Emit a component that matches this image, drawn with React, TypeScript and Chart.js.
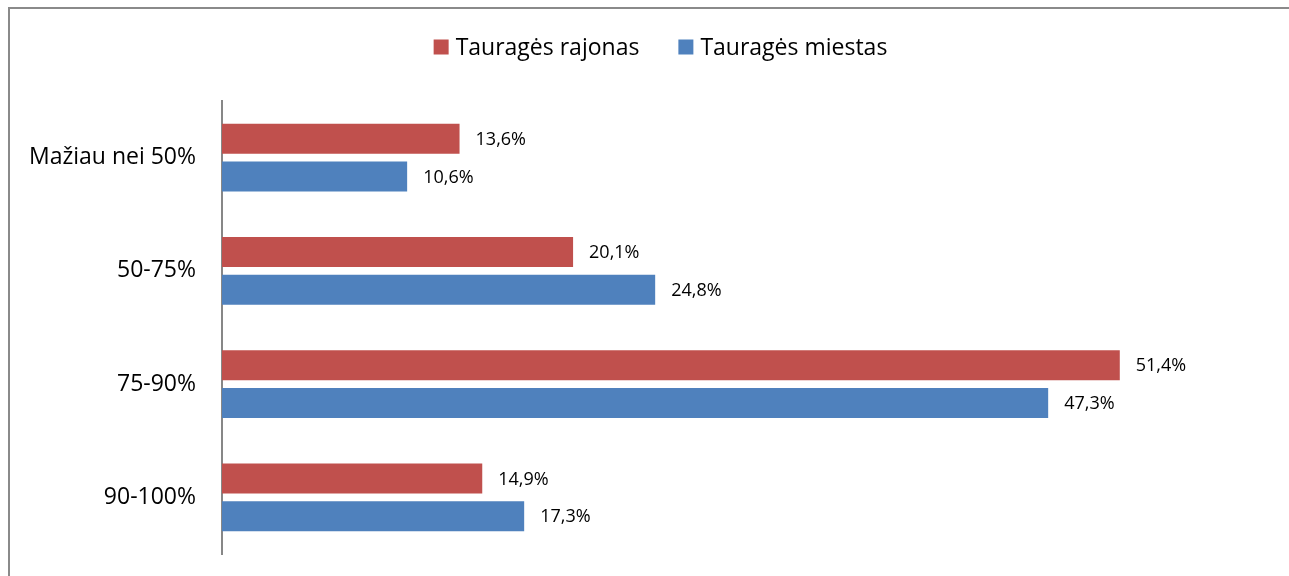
import React, { useEffect, useRef } from "react";
import { Chart, registerables } from "chart.js";

Chart.register(...registerables);

const categories = ["Mažiau nei 50%", "50-75%", "75-90%", "90-100%"];
const seriesNames = ["Tauragės rajonas", "Tauragės miestas"];
const rajonasValues = [13.6, 20.1, 51.4, 14.9];
const miestasValues = [10.6, 24.8, 47.3, 17.3];
const seriesColors = ["#C0504D", "#4F81BD"];
const axisMax = 60;

const FONT = "'Open Sans', 'Noto Sans', sans-serif";

const valueLabelPlugin = {
  id: "valueLabels",
  afterDatasetsDraw(chart: any) {
    const ctx = chart.ctx;
    ctx.save();
    ctx.font = `18px ${FONT}`;
    ctx.fillStyle = "#000000";
    ctx.textAlign = "left";
    ctx.textBaseline = "middle";
    chart.data.datasets.forEach((ds: any, di: number) => {
      const meta = chart.getDatasetMeta(di);
      meta.data.forEach((bar: any, i: number) => {
        const v = ds.data[i] as number;
        const txt = v.toFixed(1).replace(".", ",") + "%";
        ctx.fillText(txt, bar.x + 16, bar.y + 1);
      });
    });
    ctx.restore();
  },
};

const customLegendPlugin = {
  id: "customLegend",
  afterDraw(chart: any) {
    const ctx = chart.ctx;
    const box = 15;
    const boxGap = 7;
    const itemGap = 39;
    const centerY = 47;
    ctx.save();
    ctx.font = `23px ${FONT}`;
    ctx.textBaseline = "middle";
    ctx.textAlign = "left";
    const items = chart.data.datasets.map((ds: any) => ({
      text: ds.label as string,
      color: ds.backgroundColor as string,
      w: ctx.measureText(ds.label).width,
    }));
    const total =
      items.reduce((a: number, it: any) => a + box + boxGap + it.w, 0) +
      itemGap * (items.length - 1);
    let x = chart.width / 2 + 16 - total / 2;
    items.forEach((it: any) => {
      ctx.fillStyle = it.color;
      ctx.fillRect(x, centerY - box / 2, box, box);
      ctx.fillStyle = "#000000";
      ctx.fillText(it.text, x + box + boxGap, centerY + 1);
      x += box + boxGap + it.w + itemGap;
    });
    ctx.restore();
  },
};

export default function App() {
  const ref = useRef<HTMLCanvasElement>(null);
  useEffect(() => {
    if (!ref.current) return;
    const chart = new Chart(ref.current, {
      type: "bar",
      data: {
        labels: categories,
        datasets: [
          {
            label: seriesNames[0],
            data: rajonasValues,
            backgroundColor: seriesColors[0],
            categoryPercentage: 0.666,
            barPercentage: 0.796,
          },
          {
            label: seriesNames[1],
            data: miestasValues,
            backgroundColor: seriesColors[1],
            categoryPercentage: 0.666,
            barPercentage: 0.796,
          },
        ],
      },
      options: {
        indexAxis: "y",
        animation: false,
        responsive: false,
        devicePixelRatio: 1,
        layout: { padding: { left: 0, right: 19, top: 101, bottom: 22 } },
        plugins: {
          tooltip: { enabled: false },
          legend: { display: false },
        },
        scales: {
          x: {
            display: false,
            min: 0,
            max: axisMax,
          },
          y: {
            grid: { display: false, drawTicks: false },
            border: { display: true, color: "#878787", width: 2 },
            ticks: {
              padding: 26,
              color: "#000000",
              font: { family: FONT, size: 23 },
            },
            afterFit: (s: any) => {
              s.width = 222;
              s.paddingTop = 0;
              s.paddingBottom = 0;
            },
          },
        },
      },
      plugins: [valueLabelPlugin, customLegendPlugin],
    });
    return () => chart.destroy();
  }, []);

  return (
    <>
      <div
        style={{
          position: "fixed",
          left: 8,
          top: 7,
          width: 1320,
          height: 620,
          borderTop: "2px solid #8a8a8a",
          borderLeft: "2px solid #8a8a8a",
          boxSizing: "border-box",
        }}
      />
      <canvas
        ref={ref}
        width={1289}
        height={576}
        style={{ position: "fixed", left: 0, top: 0, width: 1289, height: 576 }}
      />
    </>
  );
}
